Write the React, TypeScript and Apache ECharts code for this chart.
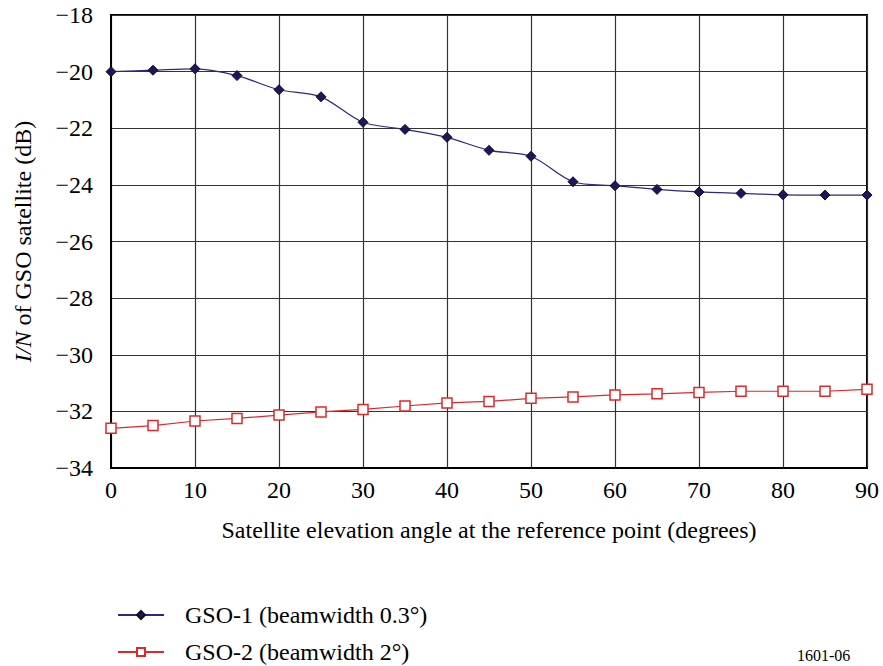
import React, { useEffect, useRef } from "react";
import * as echarts from "echarts";

const angles = [0, 5, 10, 15, 20, 25, 30, 35, 40, 45, 50, 55, 60, 65, 70, 75, 80, 85, 90];
const gso1 = [-20.0, -19.95, -19.9, -20.14, -20.64, -20.89, -21.79, -22.04, -22.32, -22.78, -22.99, -23.89, -24.03, -24.16, -24.25, -24.3, -24.35, -24.36, -24.36];
const gso2 = [-32.6, -32.5, -32.34, -32.25, -32.13, -32.02, -31.93, -31.81, -31.7, -31.65, -31.54, -31.49, -31.42, -31.38, -31.33, -31.29, -31.29, -31.29, -31.22];
const seriesNames = ["GSO-1 (beamwidth 0.3°)", "GSO-2 (beamwidth 2°)"];
const xTitle = "Satellite elevation angle at the reference point (degrees)";
const figureId = "1601-06";

const FONT = "Liberation Serif";
const FS = 24;

const legendBase = {
  orient: "vertical",
  left: 117,
  padding: 0,
  itemWidth: 46,
  itemHeight: 10,
  textStyle: { color: "#000", fontSize: FS, fontFamily: FONT, padding: [0, 0, 0, 16] },
};

export default function App() {
  const ref = useRef<HTMLDivElement>(null);
  useEffect(() => {
    const chart = echarts.init(ref.current!, null, { renderer: "svg" });
    chart.setOption({
      animation: false,
      backgroundColor: "#fff",
      textStyle: { fontFamily: FONT },
      grid: {
        left: 111,
        right: 16,
        top: 15,
        bottom: 198,
        show: true,
        borderColor: "#000",
        borderWidth: 2,
      },
      xAxis: {
        type: "value",
        min: 0,
        max: 90,
        interval: 10,
        axisLine: { lineStyle: { color: "#000", width: 2 } },
        axisTick: { show: false },
        splitLine: { lineStyle: { color: "#333", width: 1.2 } },
        axisLabel: { color: "#000", fontSize: FS, fontFamily: FONT, margin: 10 },
        name: xTitle,
        nameLocation: "middle",
        nameGap: 50,
        nameTextStyle: { color: "#000", fontSize: FS, fontFamily: FONT },
      },
      yAxis: {
        type: "value",
        min: -34,
        max: -18,
        interval: 2,
        axisLine: { lineStyle: { color: "#000", width: 2 } },
        axisTick: { show: false },
        splitLine: { lineStyle: { color: "#333", width: 1.2 } },
        axisLabel: {
          color: "#000",
          fontSize: FS,
          fontFamily: FONT,
          margin: 18,
          formatter: (v: number) => (v < 0 ? "\u2212" + Math.abs(v) : String(v)),
        },
        name: "{i|I/N} of GSO satellite (dB)",
        nameLocation: "middle",
        nameGap: 76,
        nameRotate: 90,
        nameTextStyle: {
          color: "#000",
          fontSize: FS,
          fontFamily: FONT,
          rich: { i: { fontStyle: "italic", fontSize: FS, fontFamily: FONT, color: "#000" } },
        },
      },
      legend: [
        { ...legendBase, top: 603, data: [seriesNames[0]] },
        { ...legendBase, top: 640, data: [seriesNames[1]] },
      ],
      series: [
        {
          name: seriesNames[0],
          type: "line",
          data: angles.map((a, i) => [a, gso1[i]]),
          smooth: 0.3,
          symbol: "diamond",
          symbolSize: 10,
          lineStyle: { color: "#2b2a7e", width: 1.2 },
          itemStyle: { color: "#1c1660", borderColor: "#111", borderWidth: 1 },
          z: 3,
        },
        {
          name: seriesNames[1],
          type: "line",
          data: angles.map((a, i) => [a, gso2[i]]),
          symbol: "rect",
          symbolSize: 10,
          lineStyle: { color: "#e3262b", width: 1.2 },
          itemStyle: { color: "#fff", borderColor: "#e3262b", borderWidth: 1.5 },
          z: 3,
        },
      ],
      graphic: [
        {
          type: "text",
          left: 797,
          top: 647,
          style: { text: figureId, fontSize: 16, fontFamily: FONT, fill: "#000" },
        },
      ],
    });
    return () => chart.dispose();
  }, []);
  return <div ref={ref} style={{ position: "absolute", left: 0, top: 0, width: 883, height: 666 }} />;
}
